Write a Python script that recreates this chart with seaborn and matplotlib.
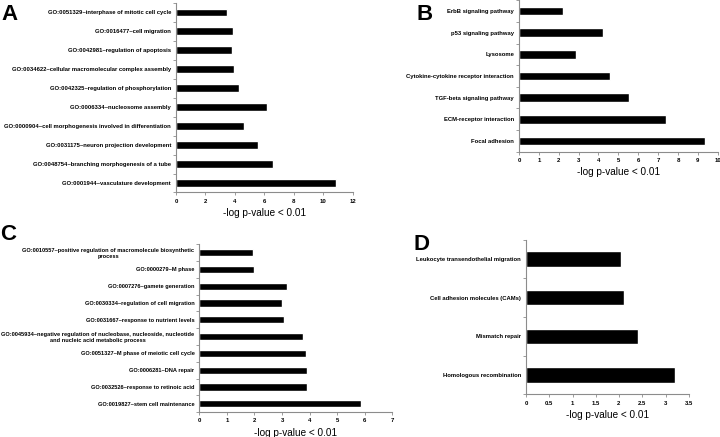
import matplotlib.pyplot as plt
from matplotlib.ticker import FixedLocator, MultipleLocator, FuncFormatter
import seaborn as sns
import numpy as np

# Panel A - GO terms (biological process)
terms_a = [
    'GO:0051329~interphase of mitotic cell cycle',
    'GO:0016477~cell migration',
    'GO:0042981~regulation of apoptosis',
    'GO:0034622~cellular macromolecular complex assembly',
    'GO:0042325~regulation of phosphorylation',
    'GO:0006334~nucleosome assembly',
    'GO:0000904~cell morphogenesis involved in differentiation',
    'GO:0031175~neuron projection development',
    'GO:0048754~branching morphogenesis of a tube',
    'GO:0001944~vasculature development',
]
vals_a = [3.45, 3.9, 3.8, 3.95, 4.25, 6.2, 4.6, 5.6, 6.6, 10.9]

# Panel B - KEGG pathways
terms_b = [
    'ErbB signaling pathway',
    'p53 signaling pathway',
    'Lysosome',
    'Cytokine-cytokine receptor interaction',
    'TGF-beta signaling pathway',
    'ECM-receptor interaction',
    'Focal adhesion',
]
vals_b = [2.2, 4.25, 2.87, 4.58, 5.52, 7.42, 9.38]

# Panel C - GO terms
terms_c = [
    'GO:0010557~positive regulation of macromolecule biosynthetic\nprocess',
    'GO:0000279~M phase',
    'GO:0007276~gamete generation',
    'GO:0030334~regulation of cell migration',
    'GO:0031667~response to nutrient levels',
    'GO:0045934~negative regulation of nucleobase, nucleoside, nucleotide\nand nucleic acid metabolic process',
    'GO:0051327~M phase of meiotic cell cycle',
    'GO:0006281~DNA repair',
    'GO:0032526~response to retinoic acid',
    'GO:0019827~stem cell maintenance',
]
vals_c = [1.96, 2.0, 3.19, 2.98, 3.07, 3.74, 3.85, 3.89, 3.89, 5.85]

# Panel D - KEGG pathways
terms_d = [
    'Leukocyte transendothelial migration',
    'Cell adhesion molecules (CAMs)',
    'Mismatch repair',
    'Homologous recombination',
]
vals_d = [2.05, 2.1, 2.4, 3.2]

sns.set_style('white')
plt.rcParams['font.family'] = ['Liberation Sans', 'DejaVu Sans']
plt.rcParams['text.color'] = 'black'
plt.rcParams['axes.labelcolor'] = 'black'
plt.rcParams['xtick.labelcolor'] = 'black'
plt.rcParams['ytick.labelcolor'] = 'black'

fig = plt.figure(figsize=(7.2, 4.37), dpi=100)
spine_col = '#8c8c8c'


def panel(rect, labels, vals, xmax, xstep, bar_w, lab_size=4.2):
    ax = fig.add_axes(rect)
    sns.barplot(x=vals, y=labels, orient='h', color='black', width=bar_w,
                saturation=1, ax=ax)
    n = len(labels)
    ax.set_xlim(0, xmax)
    ax.set_ylim(n - 0.5, -0.5)
    ax.xaxis.set_major_locator(MultipleLocator(xstep))
    ax.xaxis.set_major_formatter(FuncFormatter(lambda v, p: '%g' % v))
    # ticks on the category axis sit between the bars
    ax.yaxis.set_minor_locator(FixedLocator(np.arange(n + 1) - 0.5))
    ax.tick_params(axis='y', which='major', length=0, pad=3.5,
                   labelsize=lab_size)
    ax.tick_params(axis='y', which='minor', length=2.5, width=0.6,
                   color=spine_col, direction='out', left=True)
    ax.tick_params(axis='x', length=2.5, width=0.6, color=spine_col,
                   direction='out', bottom=True, labelsize=4.3, pad=2)
    for lab in ax.get_yticklabels():
        lab.set_fontweight('bold')
        lab.set_multialignment('center')
    for lab in ax.get_xticklabels():
        lab.set_fontweight('bold')
    for s in ['top', 'right']:
        ax.spines[s].set_visible(False)
    for s in ['left', 'bottom']:
        ax.spines[s].set_color(spine_col)
        ax.spines[s].set_linewidth(0.8)
    ax.set_ylabel('')
    ax.set_xlabel('-log p-value < 0.01', fontsize=7.2, labelpad=3)
    return ax


panel([0.2444, 0.5595, 0.2454, 0.434], terms_a, vals_a, 12, 2, 0.4)
panel([0.7208, 0.6526, 0.276, 0.347], terms_b, vals_b, 10, 1, 0.4)
panel([0.2768, 0.057, 0.2683, 0.384], terms_c, vals_c, 7, 1, 0.43,
      lab_size=4.05)
panel([0.7306, 0.0977, 0.226, 0.354], terms_d, vals_d, 3.5, 0.5, 0.4)

for letter, x, y in [('A', 0.002, 0.99), ('B', 0.579, 0.99),
                     ('C', 0.0, 0.487), ('D', 0.575, 0.465)]:
    fig.text(x, y, letter, fontsize=16, fontweight='bold', va='top',
             ha='left', color='black', family='Liberation Sans')

fig.savefig('out.png', dpi=100)
